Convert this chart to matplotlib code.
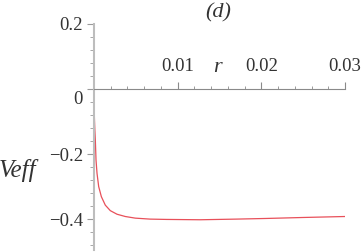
import matplotlib
matplotlib.use("Agg")
import matplotlib.pyplot as plt
from matplotlib.ticker import MultipleLocator
from matplotlib import transforms

# data
r_vals = [0.00001, 0.00005, 0.0001, 0.00016, 0.00024, 0.00036, 0.00056,
          0.00088, 0.00135, 0.00195, 0.00275, 0.00374, 0.00493, 0.0067,
          0.0087, 0.0127, 0.017, 0.0206, 0.025, 0.03]
veff_vals = [-0.043, -0.09, -0.125, -0.157, -0.218, -0.259, -0.300,
             -0.331, -0.357, -0.374, -0.385, -0.392, -0.397, -0.400,
             -0.401, -0.402, -0.400, -0.398, -0.395, -0.392]
x_ticks = [0.01, 0.02, 0.03]
x_labels = ["0.01", "0.02", "0.03"]
y_ticks = [-0.4, -0.2, 0.2]
y_labels = ["\u22120.4", "\u22120.2", "0.2"]

plt.rcParams['font.family'] = ['Liberation Serif', 'DejaVu Serif']
txt_col = '#333333'

fig = plt.figure(figsize=(3.63, 2.52), dpi=100)
ax = fig.add_axes([94 / 363, 1 - 250 / 252, 251 / 363, 226 / 252])

ax.plot(r_vals, veff_vals, color='#e8505a', lw=0.9)

ax.set_xlim(0, 0.03)
ax.set_ylim(-0.495, 0.2)

# axes crossing at the origin
for s in ['top', 'right']:
    ax.spines[s].set_visible(False)
ax.spines['bottom'].set_position(('data', 0))
ax.spines['bottom'].set_color('#8a8a8a')
ax.spines['bottom'].set_linewidth(0.8)
ax.spines['left'].set_color('#bdbdbd')
ax.spines['left'].set_linewidth(1.5)

ax.set_xticks(x_ticks)
ax.set_xticklabels(x_labels)
ax.xaxis.set_minor_locator(MultipleLocator(0.002))
ax.tick_params(axis='x', which='major', direction='in', length=5,
               color='#8a8a8a', labelsize=13.5, labelcolor=txt_col, pad=-22)
ax.tick_params(axis='x', which='minor', direction='in', length=2.2,
               color='#8a8a8a')

ax.set_yticks(y_ticks + [0])
ax.set_yticklabels(y_labels + [""])
ax.yaxis.set_minor_locator(MultipleLocator(0.04))
ax.tick_params(axis='y', which='major', direction='out', length=5,
               color='#9a9a9a', labelsize=13.5, labelcolor=txt_col, pad=3)
ax.tick_params(axis='y', which='minor', direction='out', length=3,
               color='#9a9a9a')

# the "0" label sits a bit below the x axis
off = transforms.ScaledTranslation(-11 / 100, -10 / 100, fig.dpi_scale_trans)
ax.text(0, 0, "0", transform=ax.transData + off, ha='right', va='center',
        fontsize=13.5, color=txt_col)

ax.text(0.0147, 0.065, "r", fontsize=16, style='italic', ha='center',
        va='center', color=txt_col)
fig.text(36 / 363, 1 - 171 / 252, "Veff", fontsize=18, style='italic',
         ha='right', va='center', color=txt_col)
fig.text(218 / 363, 1 - 13 / 252, "(d)", fontsize=16, style='italic',
         ha='center', va='center', color=txt_col)

fig.savefig("out.png", dpi=100)
